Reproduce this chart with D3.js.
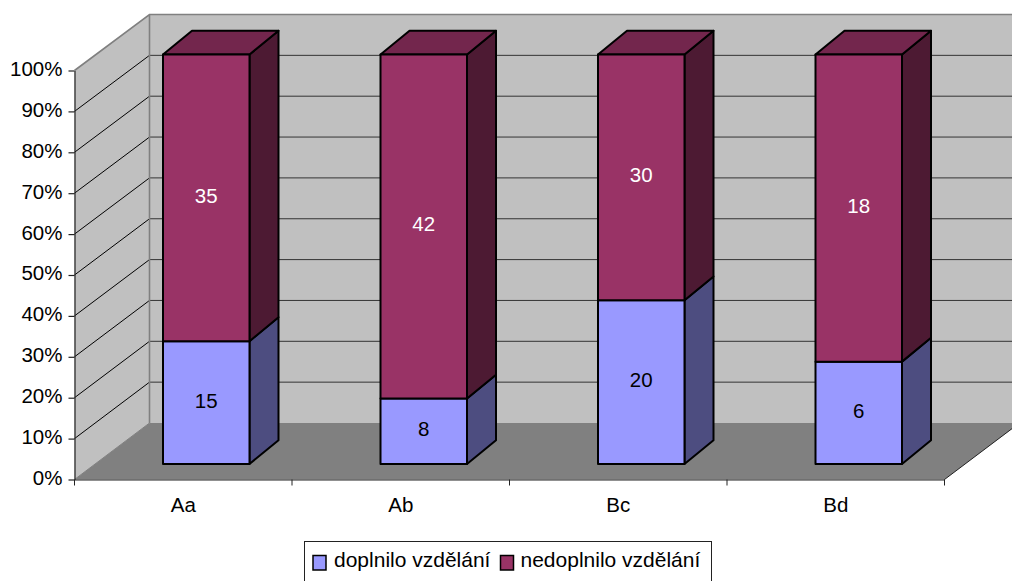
<!DOCTYPE html>
<html><head><meta charset="utf-8">
<script src="https://cdn.jsdelivr.net/npm/d3@7/dist/d3.min.js"></script>
<style>html,body{margin:0;padding:0;background:#fff}svg{display:block}text{font-family:"Liberation Sans",Arial,sans-serif}</style>
</head><body><svg id="c" width="1012" height="581"></svg>
<script>
const categories = ["Aa","Ab","Bc","Bd"];
const seriesNames = ["doplnilo vzdělání","nedoplnilo vzdělání"];
const doplnilo = [15,8,20,6];
const nedoplnilo = [35,42,30,18];
const yTicks = [0,10,20,30,40,50,60,70,80,90,100];
const frontColors = ["#9999ff","#993366"];
const sideColors = ["#4d4d80","#4d1a33"];
const topColor = "#73264d";

const W=1012,H=581;
const svg=d3.select("#c").attr("viewBox",`0 0 ${W} ${H}`);
const x=d3.scaleBand().domain(categories).range([74.5,944.5]);
const yAxis=d3.scaleLinear().domain([0,100]).range([479.5,70.5]);
const yWall=d3.scaleLinear().domain([0,100]).range([423,14.5]);
const yBar=d3.scaleLinear().domain([0,1]).range([464,54.5]);
const wallDx=75;
const right=x.range()[1], left=x.range()[0];
const line=p=>"M"+p.map(d=>d.join(",")).join("L")+"Z";

// walls and floor
svg.append("path").attr("d",line([[left,yAxis(0)],[left,yAxis(100)],[left+wallDx,yWall(100)],[left+wallDx,yWall(0)]])).attr("fill","#c0c0c0");
svg.append("rect").attr("x",left+wallDx).attr("y",yWall(100)).attr("width",W).attr("height",yWall(0)-yWall(100)).attr("fill","#c0c0c0");
svg.append("path").attr("d",line([[left,yAxis(0)],[left+wallDx,yWall(0)],[right+wallDx,yWall(0)],[right,yAxis(0)]])).attr("fill","#808080");
// gridlines
const grid=svg.append("g");
yTicks.filter(t=>t>0&&t<100).forEach(t=>{
  grid.append("line").attr("x1",left).attr("y1",yAxis(t)).attr("x2",left+wallDx).attr("y2",yWall(t)).attr("stroke","#000").attr("stroke-width",1);
  grid.append("line").attr("x1",left+wallDx).attr("y1",yWall(t)).attr("x2",W).attr("y2",yWall(t)).attr("stroke","#333").attr("stroke-width",1);
});
// wall edges
svg.append("path").attr("d",`M${left},${yAxis(100)}L${left+wallDx},${yWall(100)}L${W},${yWall(100)}M${left+wallDx},${yWall(100)}L${left+wallDx},${yWall(0)}`).attr("fill","none").attr("stroke","#808080").attr("stroke-width",1.6);
svg.append("path").attr("d",`M${left+wallDx},${yWall(0)}L${left},${yAxis(0)}`).attr("stroke","#808080").attr("fill","none");
svg.append("line").attr("x1",right).attr("y1",yAxis(0)).attr("x2",right+wallDx).attr("y2",yWall(0)).attr("stroke","#222").attr("stroke-width",1);

// bars
const rows=categories.map((c,i)=>({cat:c,a:doplnilo[i],b:nedoplnilo[i]}));
const stacked=d3.stack().keys(["a","b"]).offset(d3.stackOffsetExpand)(rows);
const barW=86.5, depthX=29, depthY=23.8, shift=23;
const bars=svg.append("g").attr("stroke","#000").attr("stroke-width",2).attr("stroke-linejoin","round");
const labels=svg.append("g");
stacked.forEach((s,si)=>{
  s.forEach((d,i)=>{
    const cx=x(d.data.cat)+x.bandwidth()/2+shift, l=cx-barW/2, r=cx+barW/2;
    const y0=yBar(d[0]), y1=yBar(d[1]);
    bars.append("path").attr("d",line([[r,y0],[r+depthX,y0-depthY],[r+depthX,y1-depthY],[r,y1]])).attr("fill",sideColors[si]);
    if(si===1) bars.append("path").attr("d",line([[l,y1],[l+depthX,y1-depthY],[r+depthX,y1-depthY],[r,y1]])).attr("fill",topColor);
    bars.append("rect").attr("x",l).attr("y",y1).attr("width",barW).attr("height",y0-y1).attr("fill",frontColors[si]);
    labels.append("text").attr("x",cx).attr("y",(y0+y1)/2+5).attr("text-anchor","middle").attr("font-size",20.5)
      .attr("fill",si===0?"#000":"#fff").text(si===0?d.data.a:d.data.b);
  });
});

// axes
const ax=d3.axisLeft(yAxis).tickValues(yTicks).tickFormat(d=>d+"%").tickSize(6).tickSizeOuter(0);
const gy=svg.append("g").attr("transform",`translate(${left},0)`).call(ax);
gy.selectAll("text").attr("font-size",20.5).attr("font-family",'"Liberation Sans"').attr("fill","#000").attr("x",-12).attr("dy","0.34em").attr("transform","translate(0,-2)");
gy.selectAll("line,path").attr("stroke","#222").attr("stroke-width",1.2);
const bx=d3.axisBottom(x).tickSize(0).tickSizeOuter(0);
const gx=svg.append("g").attr("transform",`translate(0,${yAxis(0)})`).call(bx);
gx.select("path").attr("stroke","#222").attr("stroke-width",1.2);
gx.selectAll("text").attr("font-size",20.5).attr("font-family",'"Liberation Sans"').attr("fill","#000").attr("y",18).attr("dy","0.71em");
const edges=categories.map(c=>x(c)).concat(right);
gx.selectAll(".edge").data(edges).enter().append("line").attr("x1",d=>d).attr("x2",d=>d).attr("y1",0).attr("y2",6).attr("stroke","#222");

// legend
const lg=svg.append("g");
lg.append("rect").attr("x",304.5).attr("y",541.5).attr("width",407).attr("height",60).attr("fill","#fff").attr("stroke","#222");
const legendItems=[{sx:313,tx:334},{sx:500.5,tx:520.5}];
seriesNames.forEach((n,i)=>{
  lg.append("rect").attr("x",legendItems[i].sx).attr("y",555.5).attr("width",13).attr("height",14.5).attr("fill",frontColors[i]).attr("stroke","#000").attr("stroke-width",1.5);
  lg.append("text").attr("x",legendItems[i].tx).attr("y",567).attr("font-size",21).attr("fill","#000").text(n);
});
</script></body></html>
